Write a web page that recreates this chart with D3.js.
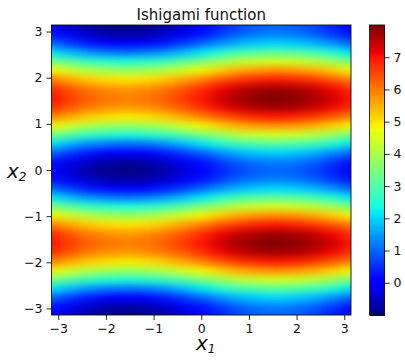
<!DOCTYPE html>
<html>
<head>
<meta charset="utf-8">
<script src="https://cdn.jsdelivr.net/npm/d3@7"></script>
<style>
  html, body { margin: 0; padding: 0; background: #fff; }
  text { font-family: "DejaVu Sans", sans-serif; fill: #111; }
</style>
</head>
<body>
<div id="chart"></div>
<script>
// Samples, one row per x2 going up from -pi
var x1Values = [-3.14,-2.75,-2.36,-1.96,-1.57,-1.18,-0.79,-0.39,0,0.39,0.79,1.18,1.57,1.96,2.36,2.75,3.14];
var x2Values = [-3.14,-2.95,-2.75,-2.55,-2.36,-2.16,-1.96,-1.77,-1.57,-1.37,-1.18,-0.98,-0.79,-0.59,-0.39,-0.2,0,
  0.2,0.39,0.59,0.79,0.98,1.18,1.37,1.57,1.77,1.96,2.16,2.36,2.55,2.75,2.95,3.14];
var fValues = [
  [0,-.38,-.71,-.92,-1,-.92,-.71,-.38,0,.38,.71,.92,1,.92,.71,.38,0],
  [.27,-.11,-.44,-.65,-.73,-.65,-.44,-.11,.27,.65,.98,1.19,1.27,1.19,.98,.65,.27],
  [1.03,.65,.32,.11,.03,.11,.32,.65,1.03,1.41,1.74,1.95,2.03,1.95,1.74,1.41,1.03],
  [2.16,1.78,1.45,1.24,1.16,1.24,1.45,1.78,2.16,2.54,2.87,3.08,3.16,3.08,2.87,2.54,2.16],
  [3.5,3.12,2.79,2.58,2.5,2.58,2.79,3.12,3.5,3.88,4.21,4.42,4.5,4.42,4.21,3.88,3.5],
  [4.84,4.46,4.13,3.92,3.84,3.92,4.13,4.46,4.84,5.22,5.55,5.76,5.84,5.76,5.55,5.22,4.84],
  [5.97,5.59,5.26,5.05,4.97,5.05,5.26,5.59,5.97,6.35,6.68,6.89,6.97,6.89,6.68,6.35,5.97],
  [6.73,6.35,6.02,5.81,5.73,5.81,6.02,6.35,6.73,7.11,7.44,7.65,7.73,7.65,7.44,7.11,6.73],
  [7,6.62,6.29,6.08,6,6.08,6.29,6.62,7,7.38,7.71,7.92,8,7.92,7.71,7.38,7],
  [6.73,6.35,6.02,5.81,5.73,5.81,6.02,6.35,6.73,7.11,7.44,7.65,7.73,7.65,7.44,7.11,6.73],
  [5.97,5.59,5.26,5.05,4.97,5.05,5.26,5.59,5.97,6.35,6.68,6.89,6.97,6.89,6.68,6.35,5.97],
  [4.84,4.46,4.13,3.92,3.84,3.92,4.13,4.46,4.84,5.22,5.55,5.76,5.84,5.76,5.55,5.22,4.84],
  [3.5,3.12,2.79,2.58,2.5,2.58,2.79,3.12,3.5,3.88,4.21,4.42,4.5,4.42,4.21,3.88,3.5],
  [2.16,1.78,1.45,1.24,1.16,1.24,1.45,1.78,2.16,2.54,2.87,3.08,3.16,3.08,2.87,2.54,2.16],
  [1.03,.65,.32,.11,.03,.11,.32,.65,1.03,1.41,1.74,1.95,2.03,1.95,1.74,1.41,1.03],
  [.27,-.11,-.44,-.65,-.73,-.65,-.44,-.11,.27,.65,.98,1.19,1.27,1.19,.98,.65,.27],
  [0,-.38,-.71,-.92,-1,-.92,-.71,-.38,0,.38,.71,.92,1,.92,.71,.38,0],
  [.27,-.11,-.44,-.65,-.73,-.65,-.44,-.11,.27,.65,.98,1.19,1.27,1.19,.98,.65,.27],
  [1.03,.65,.32,.11,.03,.11,.32,.65,1.03,1.41,1.74,1.95,2.03,1.95,1.74,1.41,1.03],
  [2.16,1.78,1.45,1.24,1.16,1.24,1.45,1.78,2.16,2.54,2.87,3.08,3.16,3.08,2.87,2.54,2.16],
  [3.5,3.12,2.79,2.58,2.5,2.58,2.79,3.12,3.5,3.88,4.21,4.42,4.5,4.42,4.21,3.88,3.5],
  [4.84,4.46,4.13,3.92,3.84,3.92,4.13,4.46,4.84,5.22,5.55,5.76,5.84,5.76,5.55,5.22,4.84],
  [5.97,5.59,5.26,5.05,4.97,5.05,5.26,5.59,5.97,6.35,6.68,6.89,6.97,6.89,6.68,6.35,5.97],
  [6.73,6.35,6.02,5.81,5.73,5.81,6.02,6.35,6.73,7.11,7.44,7.65,7.73,7.65,7.44,7.11,6.73],
  [7,6.62,6.29,6.08,6,6.08,6.29,6.62,7,7.38,7.71,7.92,8,7.92,7.71,7.38,7],
  [6.73,6.35,6.02,5.81,5.73,5.81,6.02,6.35,6.73,7.11,7.44,7.65,7.73,7.65,7.44,7.11,6.73],
  [5.97,5.59,5.26,5.05,4.97,5.05,5.26,5.59,5.97,6.35,6.68,6.89,6.97,6.89,6.68,6.35,5.97],
  [4.84,4.46,4.13,3.92,3.84,3.92,4.13,4.46,4.84,5.22,5.55,5.76,5.84,5.76,5.55,5.22,4.84],
  [3.5,3.12,2.79,2.58,2.5,2.58,2.79,3.12,3.5,3.88,4.21,4.42,4.5,4.42,4.21,3.88,3.5],
  [2.16,1.78,1.45,1.24,1.16,1.24,1.45,1.78,2.16,2.54,2.87,3.08,3.16,3.08,2.87,2.54,2.16],
  [1.03,.65,.32,.11,.03,.11,.32,.65,1.03,1.41,1.74,1.95,2.03,1.95,1.74,1.41,1.03],
  [.27,-.11,-.44,-.65,-.73,-.65,-.44,-.11,.27,.65,.98,1.19,1.27,1.19,.98,.65,.27],
  [0,-.38,-.71,-.92,-1,-.92,-.71,-.38,0,.38,.71,.92,1,.92,.71,.38,0]
];
var xTicks = [-3,-2,-1,0,1,2,3];
var yTicks = [-3,-2,-1,0,1,2,3];
var colorTicks = [0,1,2,3,4,5,6,7];
var titleText = "Ishigami function";

var svgWidth = 405;
var svgHeight = 360;
var plot = { left: 51.5, right: 351, top: 25, bottom: 315 };
var bar = { left: 369.5, right: 384.5 };

var svg = d3.select("#chart")
  .append("svg")
  .attr("width", svgWidth)
  .attr("height", svgHeight)
  .style("display", "block");

// Set up scales
var x = d3.scaleLinear().domain([-Math.PI, Math.PI]).range([plot.left, plot.right]);
var y = d3.scaleLinear().domain([-Math.PI, Math.PI]).range([plot.bottom, plot.top]);
var c = d3.scaleLinear().domain([-1, 8]).range([plot.bottom, plot.top]);

// matplotlib jet, channel by channel
var toUnit = d3.scaleLinear().domain([-1, 8]).range([0, 1]);
var red = d3.scaleLinear().domain([0, .35, .66, .89, 1]).range([0, 0, 1, 1, .5]).clamp(true);
var green = d3.scaleLinear().domain([0, .125, .375, .64, .91, 1]).range([0, 0, 1, 1, 0, 0]).clamp(true);
var blue = d3.scaleLinear().domain([0, .11, .34, .65, 1]).range([.5, 1, 1, 0, 0]).clamp(true);
function jet(v) {
  var t = toUnit(v);
  return d3.rgb(red(t) * 255, green(t) * 255, blue(t) * 255).formatHex();
}

var defs = svg.append("defs");
defs.append("clipPath").attr("id", "plot-clip")
  .append("rect")
  .attr("x", plot.left).attr("y", plot.top)
  .attr("width", plot.right - plot.left).attr("height", plot.bottom - plot.top);
defs.append("filter").attr("id", "smooth")
  .attr("filterUnits", "userSpaceOnUse")
  .attr("x", 0).attr("y", 0).attr("width", svgWidth).attr("height", svgHeight)
  .attr("color-interpolation-filters", "sRGB")
  .append("feGaussianBlur").attr("stdDeviation", "7 3.6");

// Heatmap cells; the outer ones run on past the clip so the blur has colour to read at the edge
var cells = [];
fValues.forEach(function(row, j) {
  row.forEach(function(v, i) { cells.push({ i: i, j: j, v: v }); });
});
function cellEdge(values, k, side, pad) {
  if (side < 0 && k === 0) return values[0] - pad;
  if (side > 0 && k === values.length - 1) return values[k] + pad;
  return (values[k] + values[k + side]) / 2;
}
svg.append("g")
  .attr("clip-path", "url(#plot-clip)")
  .append("g")
  .attr("filter", "url(#smooth)")
  .attr("shape-rendering", "crispEdges")
  .selectAll("rect")
  .data(cells)
  .enter()
  .append("rect")
  .attr("x", d => x(cellEdge(x1Values, d.i, -1, 1)))
  .attr("width", d => x(cellEdge(x1Values, d.i, 1, 1)) - x(cellEdge(x1Values, d.i, -1, 1)) + 0.5)
  .attr("y", d => y(cellEdge(x2Values, d.j, 1, 1)))
  .attr("height", d => y(cellEdge(x2Values, d.j, -1, 1)) - y(cellEdge(x2Values, d.j, 1, 1)) + 0.5)
  .attr("fill", d => jet(d.v));

// Colorbar
var barLevels = d3.range(-1, 8, 9 / 256);
svg.append("g")
  .attr("shape-rendering", "crispEdges")
  .selectAll("rect")
  .data(barLevels)
  .enter()
  .append("rect")
  .attr("x", bar.left)
  .attr("width", bar.right - bar.left)
  .attr("y", d => c(d + 9 / 256))
  .attr("height", d => c(d) - c(d + 9 / 256) + 0.6)
  .attr("fill", d => jet(d + 4.5 / 256));

// Axes
function styleAxis(g) {
  g.selectAll("text").style("font-size", "12.5px").attr("fill", "#111");
  g.selectAll("line").attr("stroke", "#111").attr("stroke-width", 0.9);
  g.select(".domain").remove();
}
svg.append("g")
  .attr("transform", "translate(0," + plot.bottom + ")")
  .call(d3.axisBottom(x).tickValues(xTicks).tickSize(5).tickPadding(4).tickFormat(d3.format("d")))
  .call(styleAxis);
svg.append("g")
  .attr("transform", "translate(" + plot.left + ",0)")
  .call(d3.axisLeft(y).tickValues(yTicks).tickSize(5).tickPadding(4).tickFormat(d3.format("d")))
  .call(styleAxis);
svg.append("g")
  .attr("transform", "translate(" + bar.right + ",0)")
  .call(d3.axisRight(c).tickValues(colorTicks).tickSize(5).tickPadding(4).tickFormat(d3.format("d")))
  .call(styleAxis);

// Frames
[[plot.left, plot.right], [bar.left, bar.right]].forEach(function(f) {
  svg.append("rect")
    .attr("x", f[0]).attr("y", plot.top)
    .attr("width", f[1] - f[0]).attr("height", plot.bottom - plot.top)
    .attr("fill", "none")
    .attr("stroke", "#111")
    .attr("stroke-width", 0.9);
});

// Title and axis labels
svg.append("text")
  .attr("x", (plot.left + plot.right) / 2)
  .attr("y", 20)
  .attr("text-anchor", "middle")
  .style("font-size", "15px")
  .text(titleText);

function mathLabel(px, py, sub) {
  var t = svg.append("text")
    .attr("x", px).attr("y", py)
    .style("font-size", "20px")
    .style("font-style", "italic");
  t.append("tspan").text("x");
  t.append("tspan").attr("dy", 3).style("font-size", "12px").text(sub);
}
mathLabel(196, 350, "1");
mathLabel(7, 178, "2");
</script>
</body>
</html>
